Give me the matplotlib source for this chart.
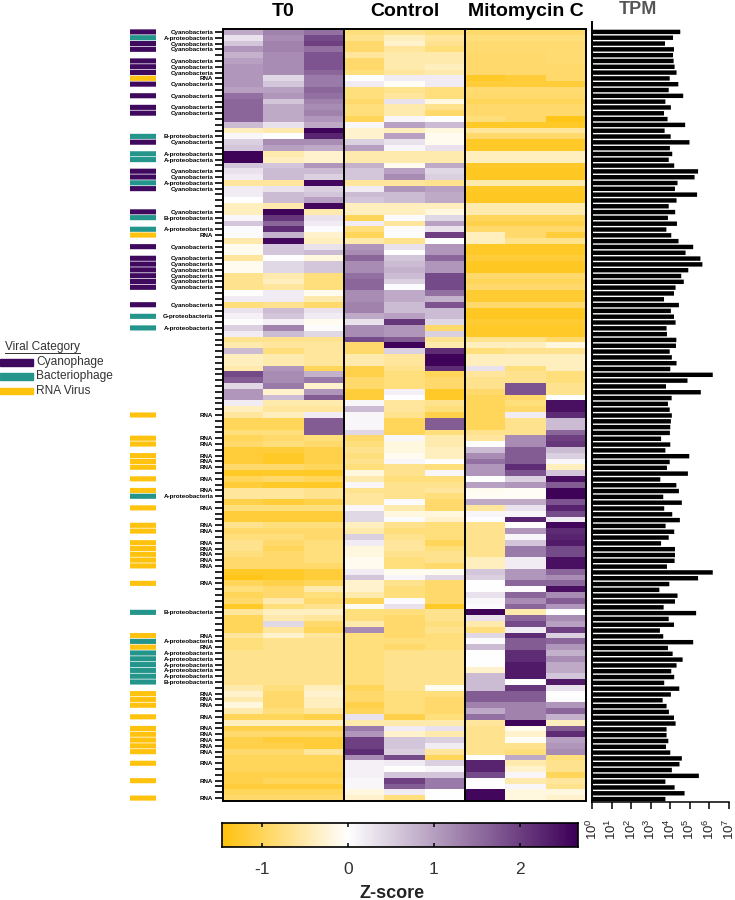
import numpy as np
import matplotlib
matplotlib.use('Agg')
import matplotlib.pyplot as plt
from matplotlib.colors import LinearSegmentedColormap, TwoSlopeNorm
from matplotlib.lines import Line2D
from matplotlib.patches import Rectangle

plt.rcParams['font.family'] = ['Liberation Sans', 'DejaVu Sans']
plt.rcParams['mathtext.fontset'] = 'custom'
plt.rcParams['mathtext.rm'] = 'Liberation Sans'
plt.rcParams['mathtext.default'] = 'rm'

# z-scores, one row per virus, three replicates
t0 = [
    [0.9,1.3,1.5],[0.3,1.2,1.9],[0.6,1.3,2.0],[1.1,1.3,1.5],[0.8,1.2,1.8],[1.0,1.2,1.8],[1.1,1.2,1.8],[1.1,1.2,1.6],
    [1.1,0.4,1.4],[1.1,0.6,1.4],[1.0,1.0,1.6],[1.5,1.1,1.5],[1.6,0.6,1.3],[1.6,0.9,1.2],[1.6,0.9,1.3],[1.6,0.9,1.1],
    [0.7,0.3,0.9],[-0.4,-0.5,2.65],[0.1,0.02,2.3],[0.5,1.2,1.2],[0.6,1.0,0.9],[2.65,-0.5,-0.3],[2.65,-0.4,-0.3],[0.6,0.6,1.1],
    [0.3,0.7,0.7],[0.2,0.7,0.5],[-0.6,-0.6,2.6],[0.2,0.3,0.5],[0.2,0.7,0.6],[0.02,0.7,1.0],[-0.4,-0.5,2.6],[-0.4,2.65,-0.5],
    [0.1,2.1,0.3],[0.6,1.6,0.2],[0.05,2.2,0.05],[0.05,0.8,-0.3],[-0.5,2.6,-0.4],[-0.1,0.6,0.3],[-0.1,0.6,0.7],[-0.6,0.0,-0.2],
    [-0.1,0.4,0.6],[-0.1,0.4,0.6],[-0.7,-0.5,-0.8],[-0.7,-0.4,-0.8],[-0.7,-0.6,-0.8],[0.0,0.2,-0.1],[0.2,0.2,-0.5],[-0.8,-0.7,-0.9],
    [0.3,0.7,0.3],[0.15,0.6,0.2],[0.03,0.15,-0.1],[0.5,1.3,0.03],[0.2,0.7,0.4],[-0.7,-0.7,-0.7],[-0.5,-0.6,-0.6],[0.7,-0.8,-0.6],
    [-0.4,-0.5,-0.6],[-0.4,-0.5,-0.6],[-0.5,1.1,-1.0],[1.9,1.2,0.8],[1.7,1.2,1.4],[0.4,1.4,-0.3],[1.1,-0.3,1.1],[1.1,0.7,1.7],
    [0.2,-0.5,-0.5],[-0.4,-0.6,-0.6],[-0.6,-0.4,0.2],[-1.0,-1.0,1.7],[-1.0,-1.0,1.7],[-0.8,-0.8,1.7],[-1.0,-0.9,-0.8],[-0.9,-0.8,-0.9],
    [-1.2,-1.2,-1.1],[-1.2,-1.3,-1.1],[-1.2,-1.3,-1.1],[-0.9,-0.9,-1.0],[-1.3,-1.3,-1.3],[-1.0,-0.9,-1.0],[-1.2,-1.3,-1.3],[-0.6,-0.6,-0.7],
    [-0.6,-0.6,-0.7],[-1.1,-1.2,-1.1],[-0.8,-0.8,-0.8],[-1.2,-1.2,-1.2],[-1.2,-1.2,-1.2],[-0.7,-0.8,-0.8],[-0.9,-0.9,-0.9],[-0.8,-0.8,-0.9],
    [-0.7,-0.9,-0.8],[-0.7,-1.0,-0.8],[-0.8,-0.9,-0.8],[-0.9,-0.9,-0.8],[-0.9,-0.9,-0.9],[-1.3,-1.3,-1.2],[-1.4,-1.3,-1.2],[-1.0,-1.1,-1.0],
    [-0.8,-0.9,-0.5],[-1.0,-0.9,-0.8],[-0.9,-0.5,-0.9],[-1.3,-0.8,-0.7],[-0.6,-0.4,-0.4],[-1.0,-0.5,-0.6],[-1.0,0.4,-0.9],[-1.0,-0.6,-1.0],
    [-0.6,-0.3,-0.6],[-0.8,-0.7,-0.7],[-0.8,-0.7,-0.7],[-0.7,-0.7,-0.7],[-0.7,-0.7,-0.7],[-0.7,-0.7,-0.7],[-0.7,-0.7,-0.7],[-0.7,-0.7,-0.7],
    [-0.7,-0.7,-0.7],[-0.5,-0.8,-0.4],[-0.3,-0.9,-0.3],[-0.5,-0.9,-0.4],[-0.2,-0.9,-0.4],[-0.5,-0.8,-0.6],[-1.0,-1.0,-1.1],[-0.4,-0.4,-0.4],
    [-1.1,-1.1,-1.1],[-0.9,-0.9,-0.9],[-1.1,-1.2,-1.2],[-1.1,-1.1,-1.2],[-0.9,-0.9,-0.6],[-1.0,-1.0,-1.0],[-1.0,-1.0,-1.0],[-1.0,-1.0,-1.0],
    [-1.1,-1.1,-1.1],[-1.1,-1.0,-1.0],[-1.2,-1.2,-1.2],[-1.0,-1.0,-1.0],[-0.9,-0.9,-0.9],
]
control = [
    [-0.8,-0.7,-0.8],[-0.7,-0.4,-0.6],[-0.9,-0.3,-0.7],[-0.9,-0.6,-0.8],[-0.6,-0.5,-0.5],[-0.9,-0.5,-0.5],[-0.9,-0.5,-0.4],[-0.8,-0.6,-0.5],
    [0.02,0.2,0.2],[0.2,-0.05,0.2],[-0.8,-0.7,-0.8],[-0.8,-0.6,-0.8],[-0.9,0.3,-0.2],[-0.8,-0.5,-0.7],[-0.8,-0.5,-0.9],[-1.0,0.1,0.0],
    [0.1,1.0,0.7],[-0.3,-0.4,-0.2],[-0.3,1.0,-0.1],[0.5,0.3,-0.1],[1.0,0.1,0.3],[-0.5,-0.5,-0.5],[-0.5,-0.5,-0.5],[0.8,-0.1,0.9],
    [0.6,1.0,0.4],[0.6,1.2,0.5],[-0.6,-0.6,-0.7],[0.2,1.1,1.0],[0.7,0.7,0.9],[0.6,0.7,0.9],[-0.4,-0.4,-0.4],[-0.4,-0.4,-0.2],
    [-1.0,0.05,0.4],[0.2,-0.6,1.0],[-0.8,0.05,0.3],[-1.0,0.03,2.0],[-0.5,-0.7,0.0],[1.1,0.3,1.1],[1.2,0.0,1.1],[1.6,0.6,1.6],
    [1.2,0.7,1.1],[1.2,0.8,1.1],[1.5,0.7,1.9],[1.6,0.5,1.9],[1.6,0.05,1.9],[1.2,0.9,1.5],[1.2,0.9,0.8],[1.3,0.7,1.8],
    [1.3,0.7,0.7],[0.9,1.0,0.7],[0.3,2.1,0.4],[1.2,1.1,-0.9],[1.2,1.1,0.5],[1.9,1.7,-0.7],[-0.9,2.65,-0.5],[-0.9,0.5,2.2],
    [-0.5,-0.6,2.65],[-0.5,-0.6,2.65],[-1.1,-0.7,2.2],[-1.1,-0.8,-1.0],[-0.9,-0.8,-0.9],[-0.9,-0.8,-0.9],[-1.2,0.15,-1.3],[-1.2,0.0,-1.3],
    [0.1,-0.6,-0.7],[0.7,-0.6,-0.8],[0.1,-0.7,-1.1],[0.1,-1.0,1.7],[0.1,-1.0,1.7],[0.4,-1.0,-0.8],[-0.9,0.1,-0.5],[-0.8,-0.2,-0.5],
    [-0.7,-0.2,-0.4],[-0.8,-0.1,-0.4],[-0.7,0.1,0.0],[-0.8,-0.7,-0.8],[-0.2,-0.7,0.1],[-0.5,-0.8,-0.8],[0.1,-0.7,-0.7],[-0.7,-0.7,-0.6],
    [-0.6,-0.7,-0.8],[-0.6,0.05,-0.9],[0.1,-0.5,-0.9],[0.4,-0.2,-0.2],[0.4,0.05,-0.3],[-0.4,-0.7,-0.8],[-0.5,-0.8,-0.8],[0.5,-0.7,-0.8],
    [0.2,-0.6,-1.0],[-0.2,-0.6,-0.8],[-0.2,-0.7,-0.7],[-0.1,-0.8,-0.7],[-0.1,-0.8,-0.9],[0.2,-0.1,-0.1],[0.6,0.1,0.4],[-0.3,-0.7,-0.9],
    [-0.3,-0.8,-0.9],[-0.5,-0.8,-0.9],[-1.0,0.05,-0.9],[-0.1,0.3,-1.3],[-0.8,-0.8,-0.7],[-0.8,-0.9,-0.7],[-0.5,-0.9,-0.8],[1.2,-0.9,-0.7],
    [-0.8,-0.9,-0.8],[-0.8,-0.8,-0.8],[-0.8,-0.9,-0.8],[-0.8,-0.7,-0.7],[-0.8,-0.7,-0.7],[-0.8,-0.7,-0.7],[-0.8,-0.7,-0.7],[-0.8,-0.7,-0.7],
    [-0.8,-0.7,-0.7],[-1.0,-0.7,-0.1],[-0.9,-0.8,-0.8],[-0.9,-0.8,-0.9],[-1.1,-0.8,-0.9],[-1.0,-0.8,-0.9],[0.3,-1.1,-0.8],[-0.5,-0.5,-0.5],
    [1.4,0.2,0.3],[1.1,-0.3,-0.5],[2.0,0.6,0.5],[2.0,0.6,0.2],[2.2,0.5,-0.6],[1.2,1.9,-1.0],[0.15,0.2,0.5],[0.15,0.0,0.1],
    [0.15,0.6,0.6],[0.1,2.0,1.4],[0.1,1.7,1.4],[-0.2,0.2,0.0],[-0.3,-0.8,0.0],
]
mitomycin = [
    [-0.9,-0.9,-0.9],[-0.8,-0.8,-0.8],[-0.85,-0.85,-0.85],[-0.85,-0.85,-0.85],[-0.9,-0.9,-0.85],[-0.9,-0.9,-0.85],[-0.9,-0.9,-0.9],[-0.9,-0.9,-0.9],
    [-1.3,-1.2,-0.9],[-1.2,-1.2,-1.2],[-0.85,-0.85,-0.85],[-0.9,-0.9,-0.9],[-1.0,-1.0,-1.0],[-0.9,-0.9,-0.9],[-0.9,-0.9,-0.9],[-0.8,-0.9,-1.4],
    [-1.3,-1.3,-1.3],[-0.6,-0.6,-0.6],[-0.9,-0.9,-0.9],[-1.3,-1.3,-1.3],[-1.3,-1.3,-1.3],[-0.4,-0.4,-0.4],[-0.4,-0.4,-0.4],[-1.3,-1.3,-1.3],
    [-1.35,-1.35,-1.35],[-1.35,-1.35,-1.35],[-0.5,-0.5,-0.5],[-1.3,-1.3,-1.3],[-1.35,-1.35,-1.35],[-1.35,-1.35,-1.35],[-0.5,-0.5,-0.5],[-0.5,-0.5,-0.5],
    [-1.0,-1.0,-1.0],[-1.1,-1.1,-1.1],[-0.9,-0.9,-0.9],[-0.4,-0.9,-1.2],[-0.4,-0.7,-0.7],[-1.3,-1.3,-1.3],[-1.3,-1.3,-1.3],[-1.2,-1.2,-1.2],
    [-1.35,-1.35,-1.35],[-1.35,-1.35,-1.35],[-0.9,-0.9,-0.9],[-1.0,-1.0,-1.0],[-0.9,-0.9,-0.9],[-1.25,-1.25,-1.25],[-1.25,-1.25,-1.25],[-0.9,-0.9,-0.9],
    [-1.35,-1.35,-1.35],[-1.35,-1.35,-1.35],[-1.25,-1.25,-1.25],[-1.3,-1.3,-1.3],[-1.3,-1.3,-1.3],[-0.7,-0.7,-0.9],[-0.4,-0.4,-0.2],[-0.8,-0.7,-0.7],
    [-0.4,-0.4,-0.4],[-0.4,-0.4,-0.4],[0.3,-0.8,-0.4],[-0.6,-0.7,-0.8],[-0.7,-0.7,-0.8],[-0.7,1.8,-0.7],[-0.9,1.8,-0.7],[-1.0,-0.9,0.0],
    [-1.0,-0.8,2.5],[-1.0,-0.9,2.5],[-1.0,0.2,2.2],[-1.0,-0.7,0.7],[-1.0,-0.7,0.7],[-0.7,-0.7,1.6],[-0.6,1.2,2.0],[0.0,1.2,2.1],
    [0.7,1.7,0.7],[1.2,1.7,0.5],[1.5,1.7,0.1],[1.1,2.2,-0.4],[1.1,1.8,0.6],[0.0,0.5,2.5],[1.0,1.1,1.7],[-0.1,-0.05,2.65],
    [-0.05,-0.05,2.65],[0.9,0.9,1.8],[-0.6,0.3,2.3],[0.1,0.1,1.9],[0.0,2.3,0.2],[-0.7,0.0,2.6],[-0.7,1.1,2.2],[-0.7,0.1,2.3],
    [-0.7,0.6,2.4],[-0.7,1.4,1.9],[-0.7,1.4,1.9],[-0.4,0.2,2.5],[-0.4,0.2,2.5],[0.6,1.1,1.6],[0.5,1.1,1.2],[0.0,1.6,1.6],
    [0.0,0.05,2.5],[0.3,1.6,1.2],[0.1,1.2,1.7],[0.05,1.6,1.1],[2.65,-0.5,0.0],[0.3,1.6,1.2],[-0.5,1.9,1.0],[-0.8,0.2,2.0],
    [0.4,2.2,0.5],[0.05,1.7,1.6],[0.7,1.7,1.1],[0.0,2.2,0.8],[0.0,2.2,1.2],[0.0,2.4,0.9],[-0.3,2.4,0.9],[0.7,2.4,0.6],
    [0.7,0.0,2.4],[0.7,2.1,0.3],[1.7,1.7,0.0],[1.7,1.7,0.05],[1.3,1.3,1.1],[0.9,1.3,1.6],[1.5,1.3,0.8],[-0.6,2.65,-0.4],
    [-0.7,-0.1,1.7],[-0.7,-0.3,2.2],[-0.7,-0.05,1.0],[-0.7,-0.7,1.1],[-0.7,-0.8,1.2],[0.0,0.9,-0.8],[2.3,-0.5,-0.7],[2.3,-0.3,-0.7],
    [1.9,0.1,-1.0],[0.0,-0.5,-0.6],[0.0,0.1,-0.7],[2.6,-0.2,-0.2],[2.6,-0.2,-0.3],
]

# log10 of TPM for each row
log_tpm = [
    4.51,4.14,3.73,4.19,4.14,4.17,4.22,4.32,3.97,4.41,3.92,4.66,3.75,4.03,3.68,3.86,4.76,3.71,4.02,4.98,
    3.98,4.10,3.92,4.20,5.42,5.24,4.37,4.24,5.37,4.32,3.92,4.25,3.88,4.34,3.80,4.05,4.42,5.17,4.78,5.54,
    5.64,4.92,4.56,4.69,4.27,4.19,3.68,4.44,4.03,4.19,4.27,3.81,3.83,4.31,4.29,3.97,4.08,4.32,4.00,6.17,
    4.88,3.78,5.56,4.07,3.88,3.97,4.08,4.03,4.00,3.98,3.53,4.00,3.75,4.97,3.97,3.83,4.90,3.49,4.31,4.44,
    3.64,4.59,3.69,4.10,4.49,3.76,4.20,3.92,3.53,4.24,4.24,4.22,3.83,6.17,5.42,3.95,3.44,4.37,4.24,3.66,
    5.32,3.92,4.19,3.47,3.64,5.17,3.88,4.12,4.63,4.32,4.05,4.20,3.69,4.46,4.03,3.61,3.81,3.93,4.19,4.27,
    3.81,3.81,3.90,3.78,4.00,4.59,4.47,4.08,5.46,3.75,4.22,4.73,3.75,
]

# rows that carry a label, by host
cyanobacteria_rows = [0,2,3,5,6,7,9,11,13,14,19,24,25,27,31,37,39,40,41,42,43,44,47]
a_proteo_rows = [1,21,22,26,34,51,80,105,107,108,109,110,111]
b_proteo_rows = [18,32,100,112]
g_proteo_rows = [49]
rna_rows = [8,35,66,70,71,73,74,75,77,79,82,85,86,88,89,90,91,92,95,104,106,114,115,116,118,120,121,122,123,124,126,129,132]

group_names = ['T0', 'Control', 'Mitomycin C']
legend_names = ['Cyanophage', 'Bacteriophage', 'RNA Virus']
cbar_ticks = [-1, 0, 1, 2]

PURPLE = '#3f0a5e'
TEAL = '#23958b'
GOLD = '#ffc20e'
W, H = 735, 900


def px_axes(left, top, right, bottom):
    # axes from pixel box, y measured from the top of the figure
    return fig.add_axes([left / W, 1 - bottom / H, (right - left) / W, (bottom - top) / H])


def px_text(x, y, s, **kw):
    return fig.text(x / W, 1 - y / H, s, **kw)


fig = plt.figure(figsize=(W / 100, H / 100), dpi=100)

cmap = LinearSegmentedColormap.from_list('zs', [GOLD, '#ffffff', '#3d0058'])
norm = TwoSlopeNorm(vmin=-1.47, vcenter=0, vmax=2.68)

# heatmap
values = np.hstack([np.array(t0), np.array(control), np.array(mitomycin)])
n_rows = values.shape[0]
ax = px_axes(223, 29, 586, 801)
ax.pcolormesh(np.arange(10), np.arange(n_rows + 1), values, cmap=cmap, norm=norm)
ax.set_ylim(n_rows, 0)
ax.set_xlim(0, 9)
ax.axvline(3, color='black', lw=1.4)
ax.axvline(6, color='black', lw=1.4)
ax.set_xticks([])
for s in ax.spines.values():
    s.set_linewidth(1.4)

labels = [''] * n_rows
for rows, name in [(cyanobacteria_rows, 'Cyanobacteria'), (a_proteo_rows, 'A-proteobacteria'),
                   (b_proteo_rows, 'B-proteobacteria'), (g_proteo_rows, 'G-proteobacteria'), (rna_rows, 'RNA')]:
    for r in rows:
        labels[r] = name
ax.set_yticks(np.arange(n_rows) + 0.5)
ax.set_yticklabels(labels, fontsize=4.5, fontweight='bold')
ax.tick_params(axis='y', length=5.5, width=1.2, pad=1.5)

for i, name in enumerate(group_names):
    ax.text(i * 3 + 1.5, 1.012, name, transform=ax.get_xaxis_transform(), ha='center', va='bottom',
            fontsize=14, fontweight='bold')

# host colour strip
strip = px_axes(130, 29, 156, 801)
strip.set_ylim(n_rows, 0)
strip.set_xlim(0, 1)
strip.axis('off')
for rows, color in [(cyanobacteria_rows, PURPLE), (a_proteo_rows + b_proteo_rows + g_proteo_rows, TEAL), (rna_rows, GOLD)]:
    strip.barh(np.array(rows) + 0.5, 1, height=0.88, color=color, snap=False)

# TPM bars
bx = px_axes(592, 29, 729, 802)
bx.barh(np.arange(n_rows) + 0.5, 10 ** np.array(log_tpm), height=0.76, left=1, color='black', snap=False)
bx.set_xscale('log')
bx.set_xlim(1, 1e7)
bx.set_ylim(n_rows, 0)
bx.set_yticks([])
bx.set_xticks([10 ** i for i in range(8)])
bx.set_xticklabels([f'$10^{i}$' for i in range(8)], rotation=90, fontsize=9.5, color='#222222')
bx.minorticks_off()
bx.tick_params(axis='x', length=5, width=1.1, pad=7)
bx.spines['top'].set_visible(False)
bx.spines['right'].set_visible(False)
bx.spines['left'].set_bounds(n_rows, -1.2)
bx.spines['left'].set_linewidth(1.4)
bx.spines['bottom'].set_linewidth(1.1)
px_text(638, 9, 'TPM', ha='center', va='center', fontsize=13, fontweight='bold', color='#555555')

# colour bar, drawn on a plain linear axis
cax = px_axes(222, 823, 578, 847)
grad = np.linspace(norm.vmin, norm.vmax, 300)
cax.imshow(grad[np.newaxis, :], extent=[norm.vmin, norm.vmax, 0, 1], aspect='auto', cmap=cmap, norm=norm)
cax.set_yticks([])
cax.set_xticks(cbar_ticks)
cax.set_xticklabels([str(t) for t in cbar_ticks])
cax.tick_params(axis='x', length=3, width=1.1, direction='in', top=True, labelsize=12.5, pad=11, labelcolor='#333333')
for s in cax.spines.values():
    s.set_linewidth(1.2)
px_text(392, 893, 'Z-score', ha='center', va='center', fontsize=13, fontweight='bold', color='#222222')

# legend
px_text(5, 347, 'Viral Category', ha='left', va='center', fontsize=8.6, color='#333333')
fig.add_artist(Line2D([5 / W, 80 / W], [1 - 353 / H, 1 - 353 / H], color='#333333', lw=0.7))
for y, name, color in zip([362.5, 376.5, 391], legend_names, [PURPLE, TEAL, GOLD]):
    fig.add_artist(Rectangle((0, 1 - (y + 3) / H), 33 / W, 6 / H, color=color, transform=fig.transFigure))
    px_text(36, y, name, ha='left', va='center', fontsize=8.6, color='#333333')

fig.savefig('out.png', dpi=100)
